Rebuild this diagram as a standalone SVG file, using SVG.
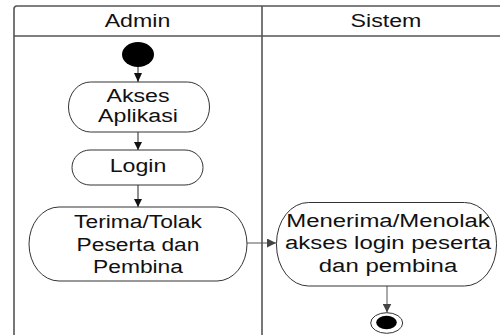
<svg xmlns="http://www.w3.org/2000/svg" width="500" height="335" viewBox="0 0 500 335">
  <style>
    .frame { fill: none; stroke: #555; stroke-width: 1.6; }
    .node { fill: #fff; stroke: #333; stroke-width: 1; }
    .lbl { font-family: "Liberation Sans", Arial, sans-serif; font-size: 19px; fill: #111; text-anchor: middle; }
    .edge { fill: none; stroke: #222; stroke-width: 1; }
    .edge2 { fill: none; stroke: #555; stroke-width: 1; }
  </style>
  <defs>
    <marker id="arr" viewBox="0 0 10 10" refX="10" refY="5" markerWidth="8" markerHeight="8" markerUnits="userSpaceOnUse" orient="auto">
      <path d="M0,0 L10,5 L0,10 z" fill="#111"/>
    </marker>
    <marker id="arr2" viewBox="0 0 10 10" refX="10" refY="5" markerWidth="9" markerHeight="9" markerUnits="userSpaceOnUse" orient="auto">
      <path d="M0,0 L10,5 L0,10 z" fill="#444"/>
    </marker>
  </defs>
  <rect width="500" height="335" fill="#fff"/>

  <g id="swimlanes">
    <path class="frame" d="M14,335 L14,9 Q14,6 17,6 L500,6"/>
    <line class="frame" x1="14" y1="36" x2="500" y2="36"/>
    <line class="frame" x1="262" y1="6" x2="262" y2="335"/>
    <g transform="translate(137.5,0) scale(1.22,1)"><text class="lbl" x="0" y="27">Admin</text></g>
    <g transform="translate(386,0) scale(1.22,1)"><text class="lbl" x="0" y="27">Sistem</text></g>
  </g>

  <g id="connectors">
    <line class="edge" x1="138" y1="67" x2="138" y2="82"/>
    <line class="edge" x1="138" y1="132" x2="138" y2="150" marker-end="url(#arr)"/>
    <line class="edge" x1="138" y1="185" x2="138" y2="207" marker-end="url(#arr)"/>
    <line class="edge2" x1="247" y1="243" x2="276" y2="243" marker-end="url(#arr2)"/>
    <line class="edge2" x1="387" y1="286" x2="387" y2="312.5" marker-end="url(#arr2)"/>
    <path d="M134,73 L142,73 L138,82 z" fill="#111"/>
  </g>

  <g id="start">
    <ellipse cx="138" cy="54.5" rx="16" ry="12.5" fill="#000"/>
  </g>

  <g id="akses-aplikasi">
    <rect class="node" x="68.5" y="82" width="141" height="50" rx="22" ry="25"/>
    <g transform="translate(138,0) scale(1.22,1)">
      <text class="lbl" x="0" y="102">Akses</text>
      <text class="lbl" x="0" y="122.5">Aplikasi</text>
    </g>
  </g>

  <g id="login">
    <rect class="node" x="72" y="150" width="131" height="35" rx="18" ry="17.5"/>
    <g transform="translate(138,0) scale(1.22,1)"><text class="lbl" x="0" y="172.5">Login</text></g>
  </g>

  <g id="terima-tolak">
    <rect class="node" x="29" y="207" width="218" height="74" rx="30" ry="37"/>
    <g transform="translate(138,0) scale(1.2,1)">
      <text class="lbl" x="0" y="228.5">Terima/Tolak</text>
      <text class="lbl" x="0" y="251">Peserta dan</text>
      <text class="lbl" x="0" y="273">Pembina</text>
    </g>
  </g>

  <g id="menerima-menolak">
    <rect class="node" x="276.5" y="202.5" width="220" height="83.5" rx="32" ry="41"/>
    <g transform="translate(388,0) scale(1.26,1)">
      <text class="lbl" x="0" y="227">Menerima/Menolak</text>
      <text class="lbl" x="0" y="249.5">akses login peserta</text>
      <text class="lbl" x="0" y="272">dan pembina</text>
    </g>
  </g>

  <g id="end">
    <ellipse cx="386.7" cy="323" rx="16" ry="10.3" fill="#fff" stroke="#333" stroke-width="1"/>
    <ellipse cx="386.5" cy="322.5" rx="10.3" ry="6.8" fill="#000"/>
  </g>
</svg>
